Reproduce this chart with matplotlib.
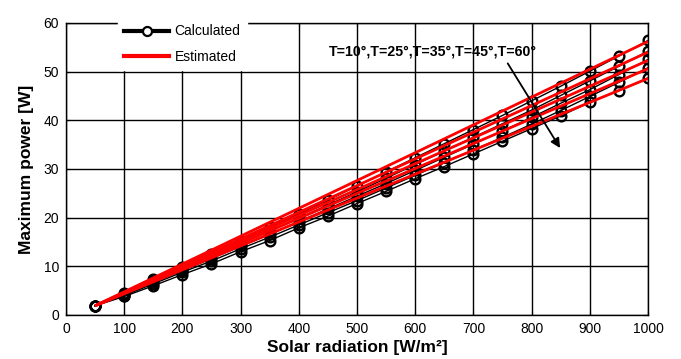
import matplotlib
matplotlib.use("Agg")
import matplotlib.pyplot as plt
from matplotlib.lines import Line2D

plt.rcParams['font.family'] = ['Liberation Sans', 'DejaVu Sans']

radiation = [50, 100, 150, 200, 250, 300, 350, 400, 450, 500,
             550, 600, 650, 700, 750, 800, 850, 900, 950, 1000]

calc_T10 = [1.9, 4.6, 7.3, 9.9, 12.5, 15.2, 18.0, 20.8, 23.6, 26.5,
            29.4, 32.3, 35.2, 38.1, 41.0, 44.0, 47.0, 50.1, 53.2, 56.4]
calc_T25 = [1.9, 4.4, 7.0, 9.5, 12.0, 14.6, 17.3, 19.9, 22.6, 25.3,
            28.1, 30.9, 33.7, 36.5, 39.3, 42.1, 45.1, 48.1, 51.1, 54.2]
calc_T35 = [1.9, 4.2, 6.7, 9.1, 11.6, 14.1, 16.6, 19.2, 21.8, 24.4,
            27.0, 29.7, 32.4, 35.1, 37.8, 40.6, 43.5, 46.3, 49.4, 52.5]
calc_T45 = [1.9, 4.0, 6.4, 8.8, 11.1, 13.6, 16.0, 18.5, 21.0, 23.5,
            26.1, 28.7, 31.3, 33.9, 36.5, 39.2, 42.0, 44.9, 47.8, 50.8]
calc_T60 = [1.9, 3.8, 6.0, 8.3, 10.5, 13.0, 15.3, 17.9, 20.3, 22.9,
            25.4, 28.0, 30.5, 33.1, 35.7, 38.3, 40.9, 43.7, 46.1, 48.7]

est_x = [50, 1000]
est_T10 = [1.9, 56.2]
est_T25 = [1.9, 54.0]
est_T35 = [1.9, 52.3]
est_T45 = [1.9, 50.6]
est_T60 = [1.9, 48.6]

xticks = [0, 100, 200, 300, 400, 500, 600, 700, 800, 900, 1000]
yticks = [0, 10, 20, 30, 40, 50, 60]

fig = plt.figure(figsize=(6.81, 3.59), dpi=100)
ax = fig.add_axes([0.0969, 0.1226, 0.8546, 0.8134])

for s in [calc_T10, calc_T25, calc_T35, calc_T45, calc_T60]:
    ax.plot(radiation, s, color='black', lw=1.0, marker='o', markersize=7,
            markerfacecolor='none', markeredgecolor='black', markeredgewidth=1.7,
            zorder=3)
for s in [est_T10, est_T25, est_T35, est_T45, est_T60]:
    ax.plot(est_x, s, color='#ff0000', lw=2.0, zorder=4, solid_capstyle='butt')

ax.set_xlim(0, 1000)
ax.set_ylim(0, 60)
ax.set_xticks(xticks)
ax.set_yticks(yticks)
ax.tick_params(direction='in', length=3, width=0.8, labelsize=10,
               top=True, right=True, pad=5)
ax.grid(True, color='black', lw=1.0, ls='-')
ax.set_axisbelow(True)
for sp in ax.spines.values():
    sp.set_color('black')
    sp.set_linewidth(1.0)

ax.set_xlabel('Solar radiation [W/m²]', fontsize=12.5, fontweight='bold', labelpad=3)
ax.set_ylabel('Maximum power [W]', fontsize=12.5, fontweight='bold', labelpad=7)

ax.text(631, 54.2, 'T=10°,T=25°,T=35°,T=45°,T=60°', fontsize=10.2,
        fontweight='bold', ha='center', va='center', zorder=6)
ax.annotate('', xy=(849, 34.3), xytext=(759, 51.7),
            arrowprops=dict(arrowstyle='-|>', color='black', lw=1.3,
                            mutation_scale=14, shrinkA=0, shrinkB=0),
            zorder=6)

handles = [
    Line2D([0], [0], color='black', lw=3, marker='o', markersize=6.5,
           markerfacecolor='white', markeredgecolor='black', markeredgewidth=1.6),
    Line2D([0], [0], color='#ff0000', lw=3),
]
leg = ax.legend(handles, ['Calculated', 'Estimated'], loc='center',
                bbox_to_anchor=(0.200, 0.928), fontsize=10, frameon=True,
                fancybox=False, edgecolor='white', facecolor='white',
                framealpha=1, handlelength=3.2, handletextpad=0.4,
                labelspacing=0.8, borderpad=0.45)
leg.set_zorder(10)

fig.savefig('out.png', dpi=100)
